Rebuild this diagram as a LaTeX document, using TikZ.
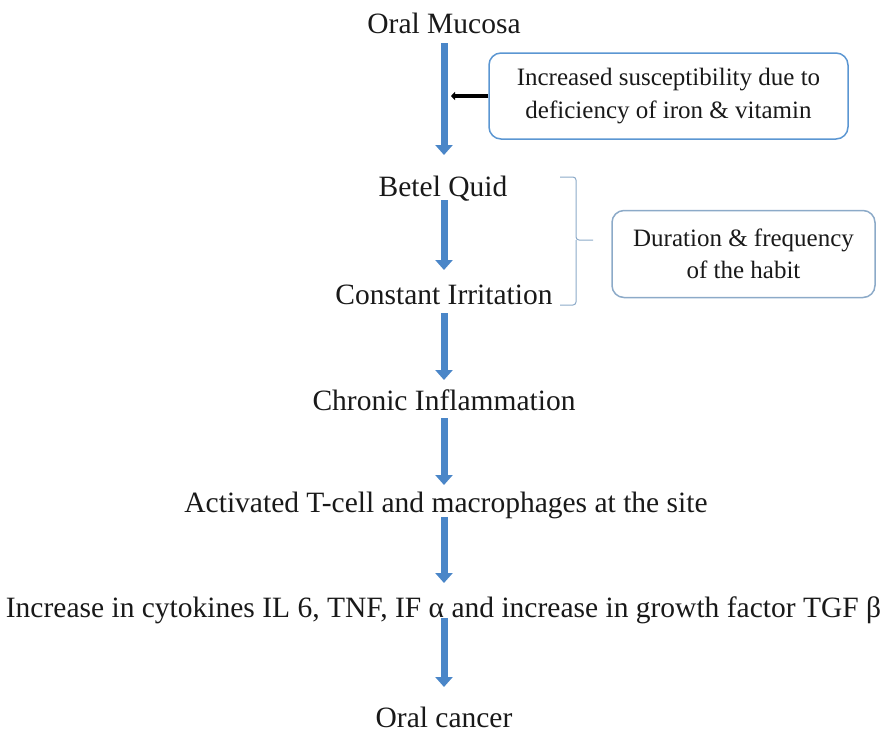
\documentclass[tikz,border=0pt]{standalone}
\usepackage{fontspec}
\setmainfont{Liberation Serif}
\usetikzlibrary{arrows.meta,calc}
\definecolor{flowblue}{RGB}{74,134,200}
\definecolor{boxblue}{RGB}{91,150,210}
\definecolor{boxgrey}{RGB}{140,170,200}
\definecolor{ink}{RGB}{25,25,25}
\begin{document}
\begin{tikzpicture}[x=1pt,y=-1pt,
  lbl/.style={inner sep=0pt,anchor=base,text=ink,font=\fontsize{29.5}{34}\selectfont},
  flow/.style={draw=flowblue,line width=7pt,-{Triangle[width=17pt,length=10pt]},flowblue},
  sidebox/.style={draw=boxblue,line width=1.5pt,rounded corners=12pt,align=center,text=ink,font=\fontsize{25}{32.5}\selectfont,inner sep=0pt},
  brk/.style={draw=boxgrey,line width=1pt}]
\useasboundingbox (0,0) rectangle (881,732);
\node[lbl] (om) at (444,33) {Oral Mucosa};
\node[lbl] (bq) at (443,196) {Betel Quid};
\node[lbl] (ci) at (444,304) {Constant Irritation};
\node[lbl] (ch) at (444,410) {Chronic Inflammation};
\node[lbl] (act) at (446,512) {Activated T-cell and macrophages at the site};
\node[lbl] (inc) at (443.5,617) {Increase in cytokines IL 6, TNF, IF α and increase in growth factor TGF β};
\node[lbl] (oc) at (444,727) {Oral cancer};
\node[sidebox,minimum width=359pt,minimum height=86pt] (b1) at (668.5,96) {Increased susceptibility due to\\deficiency of iron \& vitamin};
\node[sidebox,draw=boxgrey,minimum width=263pt,minimum height=87pt] (b2) at (743.5,254) {Duration \& frequency\\of the habit};
\coordinate (ax) at (444,0);
\draw[flow] ([yshift=-10pt]om.base -| ax) -- ([yshift=41pt]bq.base -| ax);
\draw[flow] ([yshift=-4pt]bq.base -| ax) -- ([yshift=34pt]ci.base -| ax);
\draw[flow] ([yshift=-9pt]ci.base -| ax) -- ([yshift=30pt]ch.base -| ax);
\draw[flow] ([yshift=-8pt]ch.base -| ax) -- ([yshift=27pt]act.base -| ax);
\draw[flow] ([yshift=-5pt]act.base -| ax) -- ([yshift=34pt]inc.base -| ax);
\draw[flow] ([yshift=-1pt]inc.base -| ax) -- ([yshift=40pt]oc.base -| ax);
\coordinate (shaft) at (451,96);
\draw[line width=4pt,-{Triangle[width=8pt,length=4pt]}] (b1.west |- shaft) -- (shaft);
\coordinate (bt) at (560,177);
\coordinate (bb) at (560,305);
\coordinate (tip) at (593,240);
\draw[brk,rounded corners=3pt] (bt) -- ++(16,0) -- (576,240) -- (tip);
\draw[brk,rounded corners=3pt] (bb) -- ++(16,0) -- (576,240);
\end{tikzpicture}
\end{document}
